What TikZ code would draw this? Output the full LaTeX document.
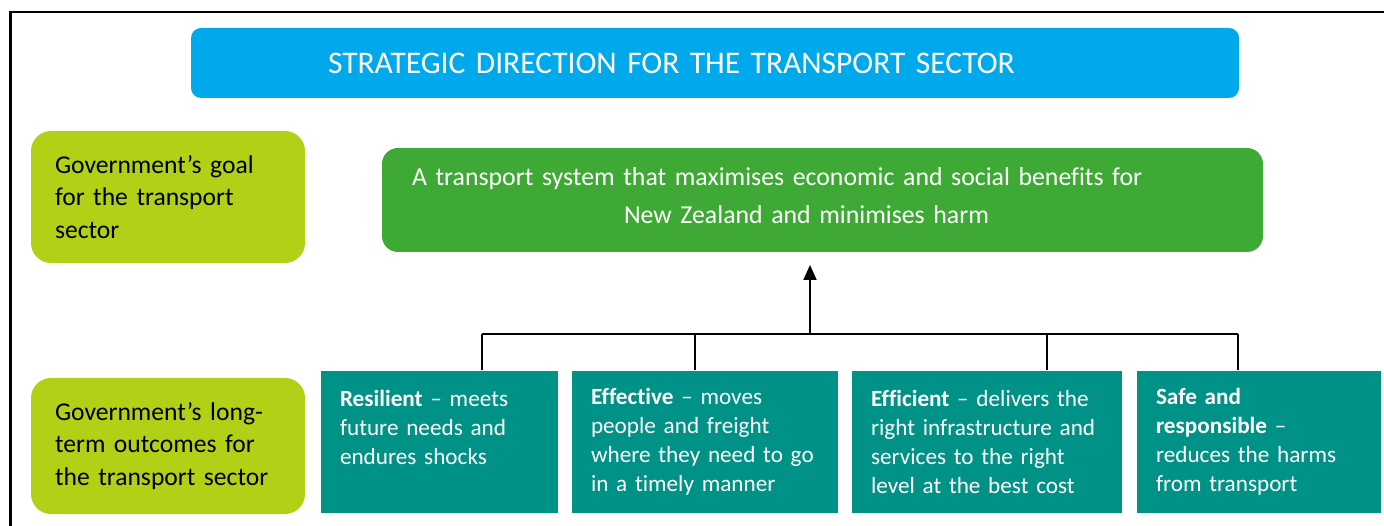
\documentclass[tikz,border=0pt]{standalone}
\usepackage{fontspec}
\setmainfont{Carlito}[Ligatures={NoCommon}]
\usepackage{tikz}
\usetikzlibrary{arrows.meta}

\definecolor{skyblue}{RGB}{0,168,236}
\definecolor{goalgreen}{RGB}{62,170,53}
\definecolor{lime}{RGB}{178,208,22}
\definecolor{tealbox}{RGB}{0,146,134}

\begin{document}
\begin{tikzpicture}[x=1pt,y=-1pt,line width=2pt,>={Triangle[length=15pt,width=13pt]}]
\tikzstyle{box}=[anchor=north west,inner ysep=0pt,align=left]
\tikzstyle{side}=[box,fill=lime,text=black,rounded corners=20pt,inner xsep=24pt,text width=226pt,font=\fontsize{25.6}{32.5}\selectfont]
\tikzstyle{outcome}=[box,fill=tealbox,text=white,inner xsep=19pt,minimum height=142pt,font=\fontsize{23.2}{29}\selectfont]
\useasboundingbox (0,0) rectangle (1384,526);
\clip (0,0) rectangle (1384,526);
\draw[line width=2.4pt] (10.5,12) rectangle (1400,545);

\node[box,fill=skyblue,text=white,rounded corners=10pt,inner xsep=137pt,text width=774pt,minimum height=70pt,font=\fontsize{31.5}{38}\selectfont] (T) at (190,27) {STRATEGIC DIRECTION FOR THE TRANSPORT SECTOR};
\node[box,fill=goalgreen,text=white,rounded corners=16pt,inner xsep=30pt,text width=821pt,minimum height=104pt,font=\fontsize{25.8}{38}\selectfont] (G) at (381,147) {A transport system that maximises economic and social benefits for\\\hspace*{212pt}New Zealand and minimises harm\rule[-8pt]{0pt}{1pt}};

\node[side,minimum height=132pt] (L) at (30,130) {Government’s goal\\for the transport\\sector};
\node[side,minimum height=136pt] (M) at (30,377) {Government’s long-\\term outcomes for\\the transport sector};

\node[outcome,text width=199pt] (R) at (320,370) {\textbf{Resilient} – meets\\future needs and\\endures shocks\\~};
\node[outcome,text width=228pt] (E) at (571,370) {\textbf{Effective} – moves\\people and freight\\where they need to go\\in a timely manner};
\node[outcome,text width=232pt] (F) at (851,370) {\textbf{Efficient} – delivers the\\right infrastructure and\\services to the right\\level at the best cost};
\node[outcome,text width=206pt] (S) at (1136,370) {\textbf{Safe and}\\\textbf{responsible} –\\reduces the harms\\from transport};

\coordinate (J1) at (482,334);
\coordinate (J2) at (695,334);
\coordinate (H) at (810,334);
\coordinate (J3) at (1047,334);
\coordinate (J4) at (1238,334);
\draw (J1) -- (J4);
\draw (J1) -- (J1 |- R.north);
\draw (J2) -- (J2 |- E.north);
\draw (J3) -- (J3 |- F.north);
\draw (J4) -- (J4 |- S.north);
\draw[->,shorten >=12pt] (H) -- (G.south -| H);

\end{tikzpicture}
\end{document}
